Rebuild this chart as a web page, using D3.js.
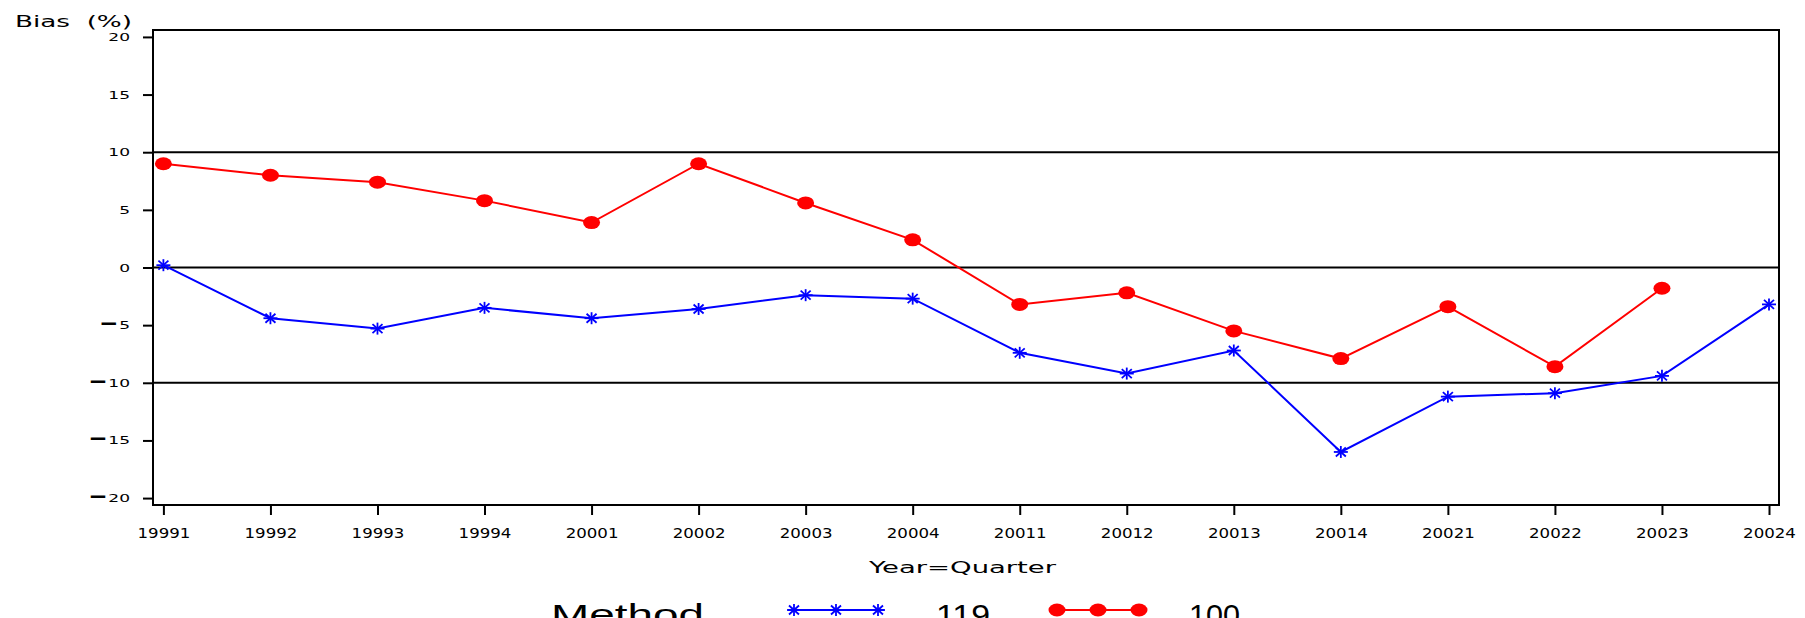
<!DOCTYPE html>
<html>
<head>
<meta charset="utf-8">
<script src="https://cdn.jsdelivr.net/npm/d3@7/dist/d3.min.js"></script>
<style>
  html, body { margin: 0; padding: 0; background: #fff; overflow: hidden; }
  svg { display: block; }
</style>
</head>
<body>
<svg id="chart" width="1805" height="618"></svg>
<script>
// Quarterly bias (%) of two estimation methods
const quarters = ["19991","19992","19993","19994","20001","20002","20003","20004",
                  "20011","20012","20013","20014","20021","20022","20023","20024"];
const bias119 = [0.2, -4.4, -5.3, -3.5, -4.4, -3.6, -2.4, -2.7,
                 -7.4, -9.2, -7.2, -16.0, -11.2, -10.9, -9.4, -3.2];
const bias100 = [9.0, 8.0, 7.4, 5.8, 3.9, 9.0, 5.6, 2.4,
                 -3.2, -2.2, -5.5, -7.9, -3.4, -8.6, -1.8, null];
const yTicks = [-20, -15, -10, -5, 0, 5, 10, 15, 20];
const refLines = [10, 0, -10];
const methods = ["119", "100"];

const svg = d3.select("#chart");
const frame = { left: 153, right: 1779, top: 30, bottom: 505 };

const x = d3.scalePoint().domain(quarters).range([163.4, 1769]);
const y = d3.scaleLinear().domain([-20.6, 20.6]).range([frame.bottom, frame.top]);

const tickFont = "'DejaVu Sans', sans-serif";

// widen text horizontally by a factor, keeping the glyphs in place
function stretch(sel, factor) {
  sel.each(function () {
    const w = this.getComputedTextLength();
    d3.select(this).attr("textLength", w * factor).attr("lengthAdjust", "spacingAndGlyphs");
  });
}

// y axis
const yAxis = svg.append("g")
  .attr("transform", `translate(${frame.left},0)`)
  .call(d3.axisLeft(y).tickValues(yTicks).tickSize(10).tickPadding(13)
    .tickFormat(d => d < 0 ? "" : String(d)));
yAxis.select(".domain").remove();
yAxis.selectAll(".tick line").attr("stroke", "#000").attr("stroke-width", 2);
yAxis.selectAll(".tick text").each(function (d) {
  const t = d3.select(this)
    .attr("font-family", tickFont).attr("font-size", 11).attr("fill", "#000");
  if (d < 0) {
    // heavy minus sign followed by the magnitude
    t.append("tspan").attr("font-size", 15).attr("font-weight", "bold").text("\u2501");
    t.append("tspan").text("\u2009" + String(-d));
  }
}).call(stretch, 1.55);

// x axis
const xAxis = svg.append("g")
  .attr("transform", `translate(0,${frame.bottom})`)
  .call(d3.axisBottom(x).tickSize(10).tickPadding(13));
xAxis.select(".domain").remove();
xAxis.selectAll(".tick line").attr("stroke", "#000").attr("stroke-width", 2);
xAxis.selectAll(".tick text")
  .attr("font-family", tickFont).attr("font-size", 13.5).attr("fill", "#000")
  .call(stretch, 1.23);

// reference lines
svg.append("g").selectAll("line").data(refLines).join("line")
  .attr("x1", frame.left).attr("x2", frame.right)
  .attr("y1", d => y(d)).attr("y2", d => y(d))
  .attr("stroke", "#000").attr("stroke-width", 2);

// plot frame
svg.append("rect")
  .attr("x", frame.left).attr("y", frame.top)
  .attr("width", frame.right - frame.left).attr("height", frame.bottom - frame.top)
  .attr("fill", "none").attr("stroke", "#000").attr("stroke-width", 2);

// markers
function star(g, cx, cy, color) {
  const s = g.append("g").attr("transform", `translate(${cx},${cy})`)
    .attr("stroke", color).attr("stroke-width", 1.8).attr("fill", "none");
  s.append("line").attr("x1", -7).attr("x2", 7).attr("y1", 0).attr("y2", 0);
  s.append("line").attr("x1", 0).attr("x2", 0).attr("y1", -6).attr("y2", 6);
  s.append("line").attr("x1", -5).attr("x2", 5).attr("y1", -4.5).attr("y2", 4.5);
  s.append("line").attr("x1", -5).attr("x2", 5).attr("y1", 4.5).attr("y2", -4.5);
}
function dot(g, cx, cy, color) {
  g.append("ellipse").attr("cx", cx).attr("cy", cy).attr("rx", 8.5).attr("ry", 6.5).attr("fill", color);
}

const series = [
  { name: methods[0], values: bias119, color: "#0000ff", marker: star },
  { name: methods[1], values: bias100, color: "#ff0000", marker: dot }
];

const line = d3.line()
  .defined(d => d.v !== null)
  .x(d => x(d.q)).y(d => y(d.v));

series.forEach(s => {
  const pts = quarters.map((q, i) => ({ q, v: s.values[i] }));
  svg.append("path").datum(pts)
    .attr("d", line)
    .attr("fill", "none").attr("stroke", s.color).attr("stroke-width", 2);
  const g = svg.append("g");
  pts.filter(p => p.v !== null).forEach(p => s.marker(g, x(p.q), y(p.v), s.color));
});

// axis titles
svg.append("text")
  .attr("x", 15).attr("y", 26.5)
  .attr("font-family", tickFont).attr("font-size", 16).attr("fill", "#000")
  .style("white-space", "pre")
  .text("Bias  (%)")
  .attr("textLength", 117).attr("lengthAdjust", "spacingAndGlyphs");

svg.append("text")
  .attr("x", 869).attr("y", 573)
  .attr("font-family", tickFont).attr("font-size", 15.5).attr("fill", "#000")
  .text("Year=Quarter")
  .attr("textLength", 187).attr("lengthAdjust", "spacingAndGlyphs");

// legend
const legendY = 610;
const legendFont = "'Liberation Sans', Arial, sans-serif";
svg.append("text")
  .attr("x", 551).attr("y", 625)
  .attr("font-family", legendFont).attr("font-size", 30).attr("fill", "#000")
  .text("Method")
  .attr("textLength", 153).attr("lengthAdjust", "spacingAndGlyphs");

const legendItems = [
  { s: series[0], x0: 788, x1: 884, tx: 936, tw: 54 },
  { s: series[1], x0: 1051, x1: 1145, tx: 1189, tw: 51 }
];
legendItems.forEach(it => {
  const g = svg.append("g");
  g.append("line").attr("x1", it.x0).attr("x2", it.x1)
    .attr("y1", legendY).attr("y2", legendY)
    .attr("stroke", it.s.color).attr("stroke-width", 2);
  [it.x0 + 6, (it.x0 + it.x1) / 2, it.x1 - 6].forEach(cx => it.s.marker(g, cx, legendY, it.s.color));
  svg.append("text")
    .attr("x", it.tx).attr("y", 625)
    .attr("font-family", legendFont).attr("font-size", 30).attr("fill", "#000")
    .text(it.s.name)
    .attr("textLength", it.tw).attr("lengthAdjust", "spacingAndGlyphs");
});
</script>
</body>
</html>
